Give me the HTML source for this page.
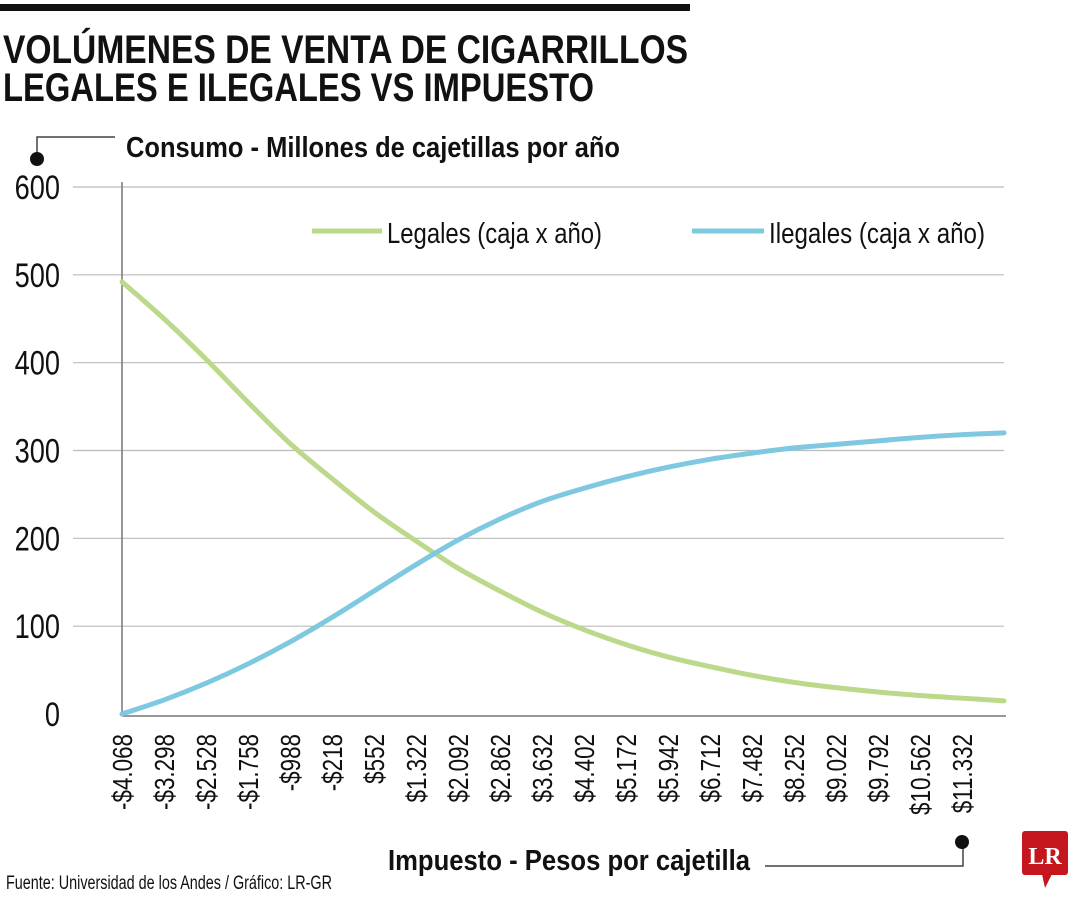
<!DOCTYPE html>
<html><head><meta charset="utf-8"><style>
body{margin:0;background:#fff;width:1080px;height:900px;overflow:hidden}
svg text{font-family:"Liberation Sans",sans-serif}
</style></head><body>
<svg id="c" width="1080" height="900">
<rect x="0" y="4" width="690" height="7" fill="#111"/>
<text x="3" y="63" font-size="40" font-weight="bold" fill="#111" textLength="685" lengthAdjust="spacingAndGlyphs">VOLÚMENES DE VENTA DE CIGARRILLOS</text>
<text x="3" y="101" font-size="40" font-weight="bold" fill="#111" textLength="591" lengthAdjust="spacingAndGlyphs">LEGALES E ILEGALES VS IMPUESTO</text>
<polyline points="115,137 37,137 37,157" fill="none" stroke="#444" stroke-width="1.5"/>
<circle cx="37" cy="159" r="7" fill="#111"/>
<text x="126" y="157" font-size="29" font-weight="bold" fill="#111" textLength="494" lengthAdjust="spacingAndGlyphs">Consumo - Millones de cajetillas por año</text>
<g id="grid"></g><g id="xt"></g><g id="series"></g>
<g>
<line x1="312" y1="231" x2="382" y2="231" stroke="#bcd88a" stroke-width="5"/>
<text x="387" y="243" font-size="29" fill="#111" textLength="215" lengthAdjust="spacingAndGlyphs">Legales (caja x año)</text>
<line x1="692" y1="231" x2="764" y2="231" stroke="#7ec8e0" stroke-width="5"/>
<text x="769" y="243" font-size="29" fill="#111" textLength="216" lengthAdjust="spacingAndGlyphs">Ilegales (caja x año)</text>
</g>
<text x="388" y="870" font-size="29" font-weight="bold" fill="#111" textLength="362" lengthAdjust="spacingAndGlyphs">Impuesto - Pesos por cajetilla</text>
<polyline points="765,866 963,866 963,845" fill="none" stroke="#444" stroke-width="1.5"/>
<circle cx="962" cy="842" r="7" fill="#111"/>
<text x="6" y="889" font-size="19" fill="#111" textLength="326" lengthAdjust="spacingAndGlyphs">Fuente: Universidad de los Andes / Gráfico: LR-GR</text>
<g>
<rect x="1022" y="831" width="46" height="44" rx="3" fill="#c4161c"/>
<polygon points="1042,874 1052,874 1045,888" fill="#c4161c"/>
<text x="1045" y="864" font-size="24" font-weight="bold" fill="#fff" text-anchor="middle" style="font-family:'Liberation Serif',serif">LR</text>
</g>
</svg>
<script>
const xLabels=["-$4.068","-$3.298","-$2.528","-$1.758","-$988","-$218","$552","$1.322","$2.092","$2.862","$3.632","$4.402","$5.172","$5.942","$6.712","$7.482","$8.252","$9.022","$9.792","$10.562","$11.332"];
const yTicks=[0,100,200,300,400,500,600];
const legales=[492,450,404,355,308,268,230,197,166,140,116,96,79,65,54,44,36,30,25,21,18,15];
const ilegales=[0,16,35,57,82,110,140,170,198,222,242,257,270,281,290,297,303,307,311,315,318,320];
const NS="http://www.w3.org/2000/svg";
const x0=122,step=42,yb=714,ypx=527/600;
const X=i=>x0+i*step, Y=v=>yb-v*ypx;
function mk(t,a,p){const e=document.createElementNS(NS,t);for(const k in a)e.setAttribute(k,a[k]);p.appendChild(e);return e;}
const g=document.getElementById('grid');
yTicks.forEach(v=>{
 if(v>0){const l=mk('line',{x1:73,x2:1004,y1:Y(v),y2:Y(v),stroke:'#bbb','stroke-width':1.2},g);
 
 }
 const t=mk('text',{transform:`translate(60,${Y(v)+12}) scale(0.8,1)`,'font-size':34,'text-anchor':'end',fill:'#111'},g);t.textContent=v;
 
 
});
const ax=mk('line',{x1:122,x2:122,y1:182,y2:716,stroke:'#777','stroke-width':1.5},g);


const bx=mk('line',{x1:122,x2:1006,y1:716,y2:716,stroke:'#777','stroke-width':1.5},g);


const xt=document.getElementById('xt');
xLabels.forEach((s,i)=>{
 const t=mk('text',{transform:`translate(${X(i)+10},734) rotate(-90) scale(0.8,1)`,'font-size':28,'text-anchor':'end',fill:'#111'},xt);t.textContent=s;
 
 
});
function path(arr){const p=arr.map((v,i)=>[X(i),Y(v)]);
 let d='M'+p[0][0]+','+p[0][1];
 for(let i=0;i<p.length-1;i++){const p0=p[i-1]||p[i],p1=p[i],p2=p[i+1],p3=p[i+2]||p2;
  d+=` C${p1[0]+(p2[0]-p0[0])/6},${p1[1]+(p2[1]-p0[1])/6} ${p2[0]-(p3[0]-p1[0])/6},${p2[1]-(p3[1]-p1[1])/6} ${p2[0]},${p2[1]}`;}
 return d;}
const sg=document.getElementById('series');
const a=mk('path',{d:path(legales),fill:'none',stroke:'#bcd88a','stroke-width':5,'stroke-linecap':'round'},sg);


const b=mk('path',{d:path(ilegales),fill:'none',stroke:'#7ec8e0','stroke-width':5,'stroke-linecap':'round'},sg);


</script>
</body></html>
